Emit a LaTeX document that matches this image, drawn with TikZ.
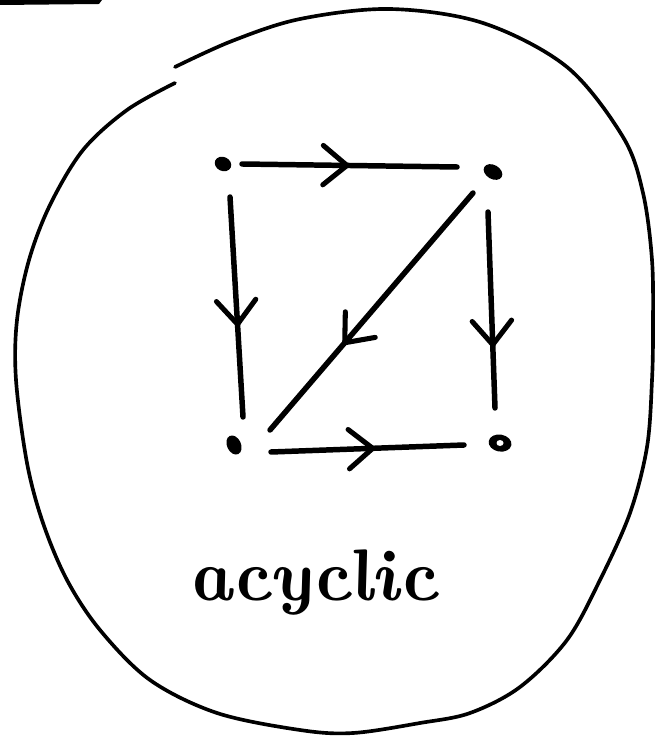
\documentclass[tikz,border=0pt]{standalone}
\usetikzlibrary{arrows.meta,decorations.markings}
\begin{document}
\begin{tikzpicture}[x=0.025cm,y=-0.025cm,
  hand/.style={line width=3.9pt, line cap=round, line join=round},
  rim/.style={line width=2.6pt, line cap=round, line join=round},
  midarrow/.style={postaction={decorate}, decoration={markings,
     mark=at position #1 with {\arrow{Straight Barb[length=17pt,width=28pt,line width=3.6pt,round]}}}}]
\useasboundingbox (0,0) rectangle (662,740);
% stray bar at top left
\fill (0,0) -- (102,0) -- (99,4) -- (0,5) -- cycle;
% outline
\draw[rim] plot[smooth, tension=0.55] coordinates {(175,67) (232,41) (300,19) (390,9) (483,23) (567,67) (623,137) (643,193) (652,260) (653,327) (652,380) (647,447) (630,513) (600,580) (567,640) (520,687) (470,713) (420,723) (353,733) (300,730) (217,713) (150,680) (100,630) (67,580) (43,523) (27,463) (16,380) (17,320) (29,260) (50,205) (83,150) (127,110) (175,83)};
% vertices
\coordinate (tl) at (223,164);
\coordinate (tr) at (493,172);
\coordinate (bl) at (234,445);
\coordinate (br) at (500,443);
\fill[rotate around={-25:(tl)}] (tl) ellipse [x radius=8.5, y radius=7];
\fill[rotate around={-30:(tr)}] (tr) ellipse [x radius=10, y radius=7];
\fill[rotate around={-65:(bl)}] (bl) ellipse [x radius=10, y radius=7];
\fill[rotate around={-10:(br)}] (br) ellipse [x radius=11.5, y radius=8.5];
\fill[white] (br) ellipse [x radius=3.5, y radius=3];
% edges
\draw[hand, midarrow=0.5] ([shift={(19,0)}]tl) -- ([shift={(-36,-5)}]tr);
\draw[hand, midarrow=0.59] ([shift={(7,33)}]tl) -- ([shift={(9,-28)}]bl);
\draw[hand, midarrow=0.64] ([shift={(-20,21)}]tr) -- ([shift={(36,-15)}]bl);
\draw[hand, midarrow=0.69] ([shift={(-5,40)}]tr) -- ([shift={(-5,-35)}]br);
\draw[hand, midarrow=0.54] ([shift={(37,7)}]bl) -- ([shift={(-36,2)}]br);
% label
\node[font=\fontsize{52}{60}\selectfont\bfseries\itshape, anchor=base, xslant=-0.22, inner sep=0pt] (lbl) at (316,600) {acyclic};
\end{tikzpicture}
\end{document}
